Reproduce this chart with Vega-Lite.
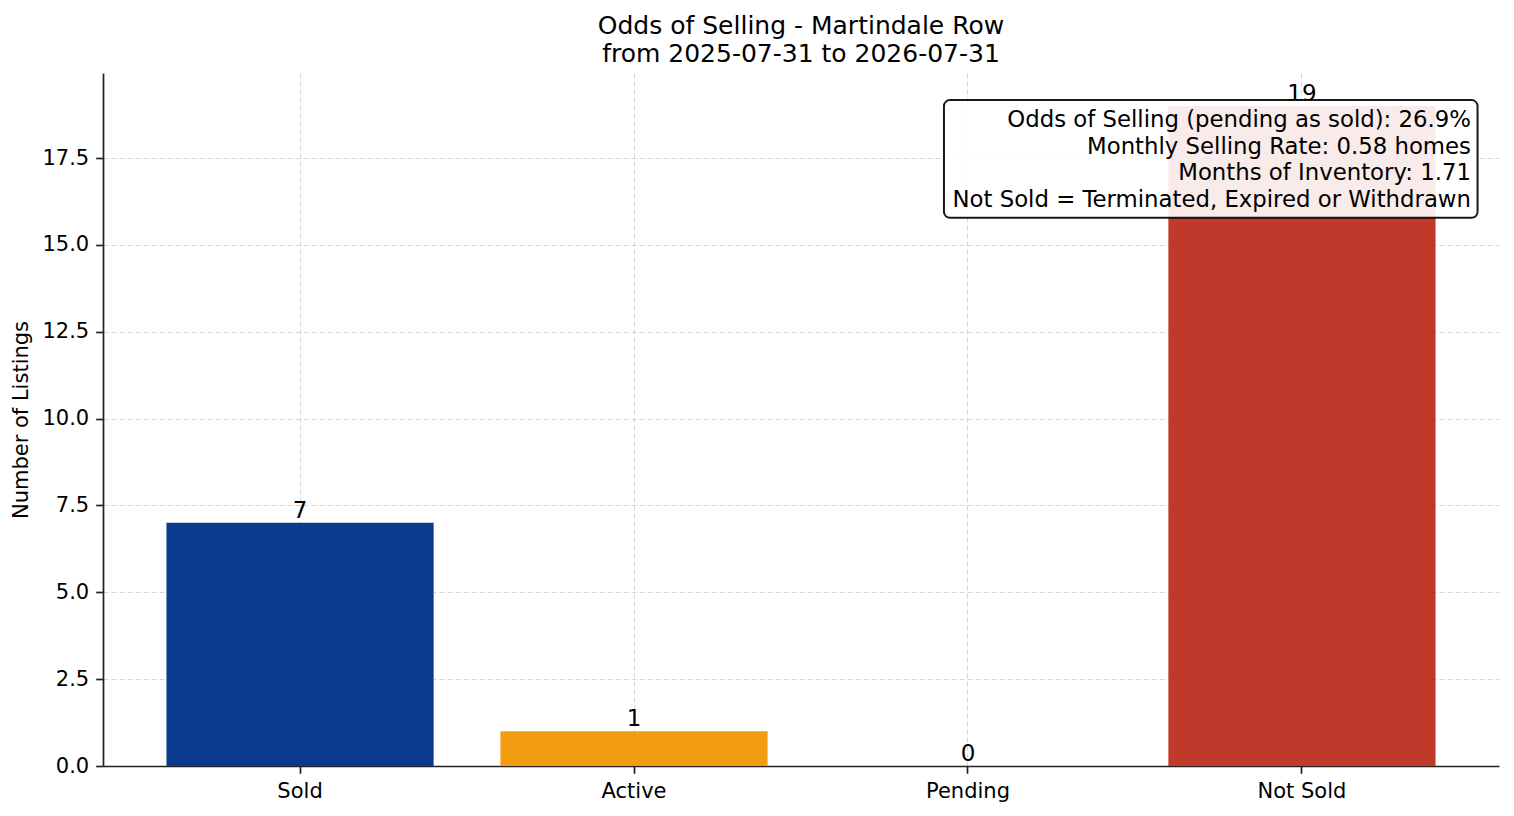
{
  "$schema": "https://vega.github.io/schema/vega-lite/v6.json",
  "width": 1396,
  "height": 693,
  "autosize": {"type": "none"},
  "padding": {"left": 103, "top": 73, "right": 15, "bottom": 50},
  "background": "white",
  "title": {
    "text": ["Odds of Selling - Martindale Row", "from 2025-07-31 to 2026-07-31"],
    "font": "DejaVu Sans",
    "fontSize": 25,
    "fontWeight": "normal",
    "color": "#000000",
    "anchor": "middle",
    "lineHeight": 28,
    "baseline": "bottom",
    "offset": -19
  },
  "config": {
    "view": {"stroke": null},
    "font": "DejaVu Sans",
    "axis": {
      "zindex": 1,
      "labelFont": "DejaVu Sans",
      "labelFontSize": 21,
      "labelColor": "#000000",
      "titleFont": "DejaVu Sans",
      "titleFontSize": 21,
      "titleFontWeight": "normal",
      "titleColor": "#000000",
      "domainColor": "#222222",
      "domainWidth": 1.7,
      "tickColor": "#222222",
      "tickWidth": 1.7,
      "tickSize": 7.3,
      "labelPadding": 7,
      "grid": true,
      "gridColor": "#b0b0b0",
      "gridOpacity": 0.5,
      "gridWidth": 1,
      "gridDash": [5, 3]
    }
  },
  "data": {
    "values": [
      {"status": "Sold", "count": 7},
      {"status": "Active", "count": 1},
      {"status": "Pending", "count": 0},
      {"status": "Not Sold", "count": 19}
    ]
  },
  "encoding": {
    "x": {
      "field": "status",
      "type": "nominal",
      "sort": ["Sold", "Active", "Pending", "Not Sold"],
      "scale": {"paddingInner": 0.2, "paddingOuter": 0.19},
      "axis": {"title": null, "labelAngle": 0, "bandPosition": 0.5}
    }
  },
  "layer": [
    {
      "mark": {"type": "bar"},
      "encoding": {
        "y": {
          "field": "count",
          "type": "quantitative",
          "scale": {"domain": [0, 19.95], "nice": false, "zero": true},
          "axis": {
            "title": "Number of Listings",
            "values": [0, 2.5, 5, 7.5, 10, 12.5, 15, 17.5],
            "format": ".1f",
            "titlePadding": 10
          }
        },
        "color": {
          "field": "status",
          "type": "nominal",
          "scale": {
            "domain": ["Sold", "Active", "Pending", "Not Sold"],
            "range": ["#0b3b8e", "#f39c12", "#95a5a6", "#c0392b"]
          },
          "legend": null
        }
      }
    },
    {
      "mark": {"type": "text", "baseline": "bottom", "fontSize": 23, "color": "#000000"},
      "encoding": {
        "y": {"field": "count", "type": "quantitative"},
        "text": {"field": "count", "type": "quantitative"}
      }
    },
    {
      "data": {"values": [{}]},
      "mark": {
        "type": "bar",
        "width": 533.6,
        "xOffset": -91.2,
        "fill": "white",
        "fillOpacity": 0.9,
        "stroke": "#000000",
        "strokeOpacity": 0.9,
        "strokeWidth": 2,
        "cornerRadius": 6
      },
      "encoding": {
        "x": {"datum": "Not Sold"},
        "y": {"datum": 19.17},
        "y2": {"datum": 15.78}
      }
    },
    {
      "data": {"values": [{}]},
      "mark": {
        "type": "text",
        "text": [
          "Odds of Selling (pending as sold): 26.9%",
          "Monthly Selling Rate: 0.58 homes",
          "Months of Inventory: 1.71",
          "Not Sold = Terminated, Expired or Withdrawn"
        ],
        "align": "right",
        "baseline": "top",
        "fontSize": 22.8,
        "lineHeight": 26.8,
        "dx": 169,
        "color": "#000000"
      },
      "encoding": {
        "x": {"datum": "Not Sold"},
        "y": {"datum": 18.92}
      }
    }
  ]
}
